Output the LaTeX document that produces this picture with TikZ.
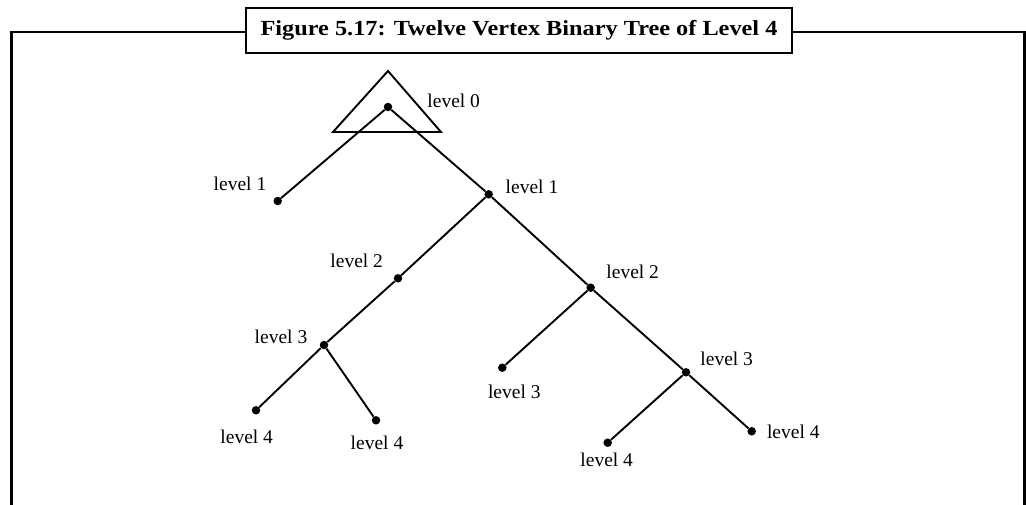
\documentclass[tikz,border=0pt]{standalone}
\usepackage{fontspec}
\setmainfont{Liberation Serif}
\newfontfamily\titlefont[FakeStretch=1.13]{Liberation Serif}
\usepackage{tikz}
\usetikzlibrary{calc}

\tikzset{
    vertex/.style={circle,fill=black,inner sep=0pt,minimum size=8.5pt},
    lvl/.style={inner sep=0pt,font=\fontsize{19.5}{21}\selectfont},
    edge/.style={line width=1.9pt},
    frame/.style={line width=2.6pt}
}

\begin{document}
\begin{tikzpicture}[x=1pt,y=-1pt]

\useasboundingbox (0,0) rectangle (1026,505);

% Title box and frame
\node[draw,frame,fill=white,minimum width=546pt,minimum height=45pt,inner sep=0pt,
      font=\titlefont\fontsize{21.5}{24}\selectfont\bfseries] (title) at (519,30.5)
      {Figure 5.17: Twelve Vertex Binary Tree of Level 4};
\coordinate (ftop) at (0,32);
\draw[frame] (11.5,506) |- (title.west |- ftop);
\draw[frame] (title.east |- ftop) -| (1024.5,506);

% Vertices
\node[vertex] (r)   at (388,107) {};
\node[vertex] (a1)  at (277.7,201) {};
\node[vertex] (b1)  at (488.7,194.3) {};
\node[vertex] (a2)  at (398,278.3) {};
\node[vertex] (b2)  at (590.7,287.7) {};
\node[vertex] (a3)  at (324,345) {};
\node[vertex] (b3)  at (502.3,367.7) {};
\node[vertex] (c3)  at (686,372.3) {};
\node[vertex] (a4)  at (256,410.3) {};
\node[vertex] (b4)  at (376,420.3) {};
\node[vertex] (c4)  at (607.7,442.7) {};
\node[vertex] (d4)  at (751.7,431.3) {};

% Triangle round the root
\draw[edge] (388,71) -- (441,132) -- (333,132) -- cycle;

% Edges
\draw[edge] (r) -- (a1);
\draw[edge] (r) -- (b1);
\draw[edge] (b1) -- (a2);
\draw[edge] (b1) -- (b2);
\draw[edge] (a2) -- (a3);
\draw[edge] (a3) -- (a4);
\draw[edge] (a3) -- (b4);
\draw[edge] (b2) -- (b3);
\draw[edge] (b2) -- (c3);
\draw[edge] (c3) -- (c4);
\draw[edge] (c3) -- (d4);

% Labels
\node[lvl] (tr)  at (453.7,101) {level 0};
\node[lvl] (ta1) at (240,184) {level 1};
\node[lvl] (tb1) at (532,187) {level 1};
\node[lvl] (ta2) at (356.7,261) {level 2};
\node[lvl] (tb2) at (632.7,271.7) {level 2};
\node[lvl] (ta3) at (281,336.7) {level 3};
\node[lvl] (tb3) at (514.3,391.7) {level 3};
\node[lvl] (tc3) at (726.7,359.3) {level 3};
\node[lvl] (ta4) at (246.7,437.3) {level 4};
\node[lvl] (tb4) at (377,442.7) {level 4};
\node[lvl] (tc4) at (606.7,460) {level 4};
\node[lvl] (td4) at (793.3,432) {level 4};

\end{tikzpicture}
\end{document}
